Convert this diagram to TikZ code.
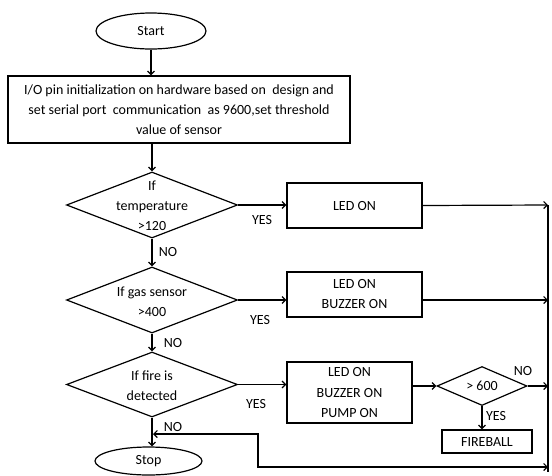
\documentclass[tikz,border=0pt]{standalone}
\usepackage{fontspec}
\setmainfont{Carlito}
\usetikzlibrary{shapes.geometric,arrows.meta}
\begin{document}
\begin{tikzpicture}[x=1pt,y=-1pt,
  every node/.style={font=\fontsize{14}{20}\selectfont},
  box/.style={draw,line width=1.2pt,inner sep=0pt,align=center},
  term/.style={draw,ellipse,line width=1.2pt,inner sep=0pt},
  dia/.style={draw,diamond,line width=1.2pt,inner sep=0pt},
  lbl/.style={inner sep=0pt,align=center},
  ln/.style={line width=1.2pt},
  conn/.style={line width=1.2pt,-{Straight Barb[length=3.5pt,width=7pt]}},
  conn2/.style={line width=1.2pt,{Straight Barb[length=3.5pt,width=7pt]}-{Straight Barb[length=3.5pt,width=7pt]}}]
\useasboundingbox (0,0) rectangle (552,475);
\node[term,minimum width=110pt,minimum height=36pt] (start) at (151,31) {Start};
\node[box,minimum width=342pt,minimum height=67pt] (init) at (179,109.5)
  {I/O pin initialization on hardware based on\ \ design and\\set serial port\ \ communication\ \ as 9600,set threshold\\value of sensor};
\node[dia,minimum width=171pt,minimum height=66pt] (d1) at (152,205) {};
\node[lbl] (t1) at (152,206) {If\\temperature\\>120};
\node[box,minimum width=135pt,minimum height=45pt] (led1) at (354.5,205.5) {LED ON};
\node[dia,minimum width=171pt,minimum height=66pt] (d2) at (152,300) {};
\node[lbl] (t2) at (152,302) {If gas sensor\\>400};
\node[box,minimum width=135pt,minimum height=45pt] (led2) at (354.5,294.5) {LED ON\\BUZZER ON};
\node[dia,minimum width=171pt,minimum height=65pt] (d3) at (152,384.5) {};
\node[lbl] (t3) at (152,386) {If fire is\\detected};
\node[box,minimum width=125pt,minimum height=61pt] (led3) at (349.5,392.5) {LED ON\\BUZZER ON\\PUMP ON};
\node[dia,minimum width=90pt,minimum height=39pt] (d4) at (482,386) {};
\node[lbl] (t4) at (482,386) {> 600};
\node[box,minimum width=90pt,minimum height=23pt] (fire) at (487,441.5) {FIREBALL};
\node[term,minimum width=107pt,minimum height=28pt] (stop) at (148.5,461) {Stop};
\coordinate (rt) at (548,205);
\coordinate (rb) at (548,472);
\coordinate (b1) at (548,467);
\coordinate (b2) at (258,467);
\coordinate (b3) at (258,434);
% connectors
\draw[conn] (start) -- (start |- init.north);
\draw[conn] (init.south -| d1.north) -- (d1.north);
\draw[conn] (d1.east) -- (led1.west |- d1.east);
\draw[conn] (led1.east) -- (rt);
\draw[conn] (d1.south) -- (d2.north);
\draw[conn] (d2.east) -- (d2.east -| led2.west);
\draw[conn] (led2.east |- d2.east) -- (d2.east -| rt);
\draw[conn] (d2.south) -- (d3.north);
\draw[conn] (d3.east) -- (d3.east -| led3.west);
\draw[conn] (led3.east |- d4.west) -- (d4.west);
\draw[conn] (d4.east) -- (d4.east -| rt);
\draw[conn] (d4.south) -- (d4.south |- fire.north);
\draw[conn] (d3.south) -- (d3.south |- stop.north);
\draw[ln] (rt) -- (rb);
\draw[conn2] (b1) -- (b2) -- (b3) -- ([xshift=1pt]d3.south |- b3);
% labels
\node[lbl] (y1) at (262,220) {YES};
\node[lbl] (n1) at (168,252) {NO};
\node[lbl] (y2) at (260,320) {YES};
\node[lbl] (n2) at (173,343) {NO};
\node[lbl] (y3) at (256,404) {YES};
\node[lbl] (n3) at (173,427) {NO};
\node[lbl] (n4) at (523,371) {NO};
\node[lbl] (y4) at (496,416) {YES};
\end{tikzpicture}
\end{document}
